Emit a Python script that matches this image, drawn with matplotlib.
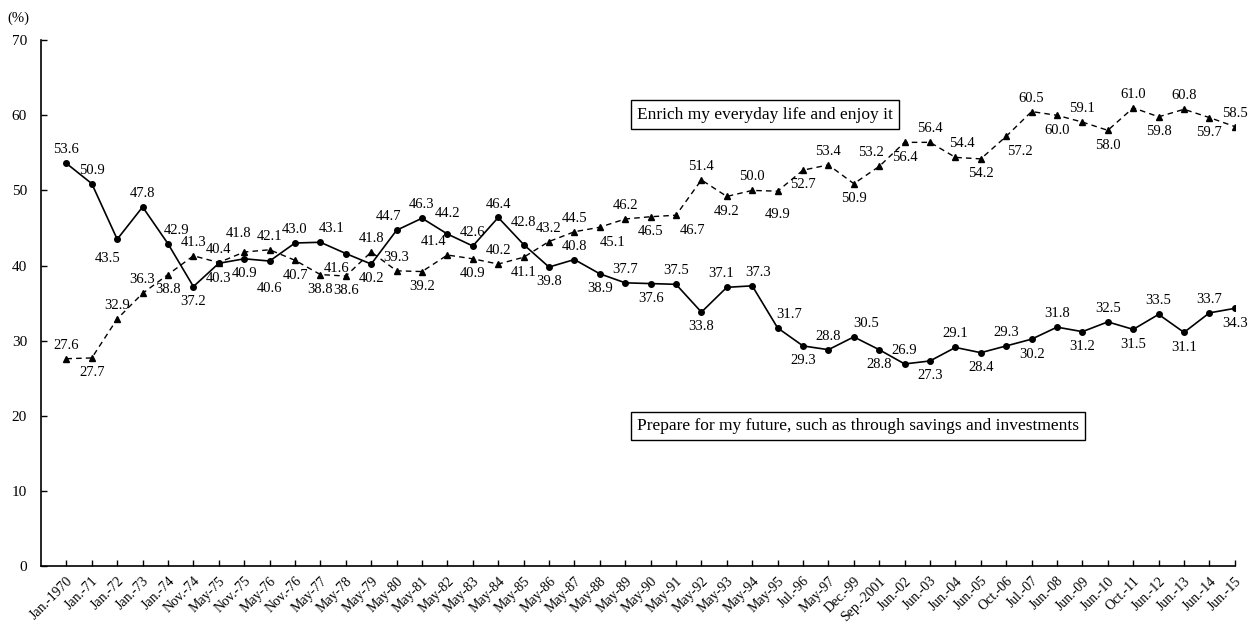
import matplotlib
matplotlib.use('Agg')
import matplotlib.pyplot as plt

plt.rcParams['font.family'] = ['Liberation Serif', 'DejaVu Serif']

# survey dates (x axis)
dates = ['Jan.-1970', 'Jan.-71', 'Jan.-72', 'Jan.-73', 'Jan.-74', 'Nov.-74', 'May-75',
         'Nov.-75', 'May-76', 'Nov.-76', 'May-77', 'May-78', 'May-79', 'May-80',
         'May-81', 'May-82', 'May-83', 'May-84', 'May-85', 'May-86', 'May-87',
         'May-88', 'May-89', 'May-90', 'May-91', 'May-92', 'May-93', 'May-94',
         'May-95', 'Jul.-96', 'May-97', 'Dec.-99', 'Sep.-2001', 'Jun.-02', 'Jun.-03',
         'Jun.-04', 'Jun.-05', 'Oct.-06', 'Jul.-07', 'Jun.-08', 'Jun.-09', 'Jun.-10',
         'Oct.-11', 'Jun.-12', 'Jun.-13', 'Jun.-14', 'Jun.-15']

# Prepare for my future (solid line)
future = [53.6, 50.9, 43.5, 47.8, 42.9, 37.2, 40.3, 40.9, 40.6, 43.0, 43.1, 41.6,
          40.2, 44.7, 46.3, 44.2, 42.6, 46.4, 42.8, 39.8, 40.8, 38.9, 37.7, 37.6,
          37.5, 33.8, 37.1, 37.3, 31.7, 29.3, 28.8, 30.5, 28.8, 26.9, 27.3, 29.1,
          28.4, 29.3, 30.2, 31.8, 31.2, 32.5, 31.5, 33.5, 31.1, 33.7, 34.3]

# Enrich my everyday life (dashed line)
enrich = [27.6, 27.7, 32.9, 36.3, 38.8, 41.3, 40.4, 41.8, 42.1, 40.7, 38.8, 38.6,
          41.8, 39.3, 39.2, 41.4, 40.9, 40.2, 41.1, 43.2, 44.5, 45.1, 46.2, 46.5,
          46.7, 51.4, 49.2, 50.0, 49.9, 52.7, 53.4, 50.9, 53.2, 56.4, 56.4, 54.4,
          54.2, 57.2, 60.5, 60.0, 59.1, 58.0, 61.0, 59.8, 60.8, 59.7, 58.5]

# label placement: a = above, b = below
future_pos = ['a', 'a', 'b', 'a', 'a', 'b', 'b', 'b', 'b', 'a', 'a', 'b', 'b', 'a',
              'a', 'a', 'a', 'a', 'a', 'b', 'a', 'b', 'a', 'b', 'a', 'b', 'a', 'a',
              'a', 'b', 'a', 'a', 'b', 'a', 'b', 'a', 'b', 'a', 'b', 'a', 'b', 'a',
              'b', 'a', 'b', 'a', 'b']
enrich_pos = ['a', 'b', 'a', 'a', 'b', 'a', 'a', 'a', 'a', 'b', 'b', 'b', 'a', 'a',
              'b', 'a', 'b', 'a', 'b', 'a', 'a', 'b', 'a', 'b', 'b', 'a', 'b', 'a',
              'b', 'b', 'a', 'b', 'a', 'b', 'a', 'a', 'b', 'b', 'a', 'b', 'a', 'b',
              'a', 'b', 'a', 'b', 'a']

# small nudges (points) for crowded labels, by point index
future_nudge = {2: (-7, -3), 4: (6, 0), 8: (0, -9), 10: (8, 0), 11: (-7, 0),
                13: (-6, 0), 15: (0, 5), 18: (0, 6), 26: (-4, 0), 27: (4, 0),
                28: (8, 0), 31: (9, 0)}
enrich_nudge = {7: (-4, 4), 15: (-10, 0), 21: (9, 0), 24: (12, 0), 28: (0, -6),
                32: (-6, 0), 35: (5, 0), 37: (10, 0)}

x = list(range(1, len(dates) + 1))

fig = plt.figure(figsize=(12.54, 6.26), dpi=100)
ax = fig.add_axes([0.0327, 0.0958, 0.952, 0.840])

ax.plot(x, future, color='black', linewidth=1.2, marker='o', markersize=4)
ax.plot(x, enrich, color='black', linewidth=1.0, linestyle=(0, (4, 3)),
        marker='^', markersize=5)


def label(xi, v, p, nudge):
    dx, dy = nudge
    if p == 'a':
        ax.annotate(f'{v:.1f}', (xi, v), xytext=(dx, 5 + dy), textcoords='offset points',
                    ha='center', va='bottom', fontsize=10.5)
    else:
        ax.annotate(f'{v:.1f}', (xi, v), xytext=(dx, -6 + dy), textcoords='offset points',
                    ha='center', va='top', fontsize=10.5)


for i, (xi, v, p) in enumerate(zip(x, future, future_pos)):
    label(xi, v, p, future_nudge.get(i, (0, 0)))
for i, (xi, v, p) in enumerate(zip(x, enrich, enrich_pos)):
    label(xi, v, p, enrich_nudge.get(i, (0, 0)))

ax.set_xlim(0, len(dates))
ax.set_ylim(0, 70)
ax.set_yticks(range(0, 71, 10))
ax.set_xticks(x)
ax.set_xticklabels(dates, rotation=45, ha='right', rotation_mode='anchor', fontsize=10)
ax.tick_params(axis='both', direction='in', length=4, width=1)
ax.tick_params(axis='y', labelsize=11, pad=10)
ax.tick_params(axis='x', pad=6)
for s in ['top', 'right']:
    ax.spines[s].set_visible(False)
for s in ['left', 'bottom']:
    ax.spines[s].set_linewidth(1.2)

box = dict(boxstyle='square,pad=0.35', facecolor='white', edgecolor='black', linewidth=1)
ax.text(23.45, 60.1, 'Enrich my everyday life and enjoy it', fontsize=12.5,
        va='center', ha='left', bbox=box)
ax.text(23.45, 18.6, 'Prepare for my future, such as through savings and investments',
        fontsize=12.5, va='center', ha='left', bbox=box)

fig.text(18 / 1254, 1 - 18 / 626, '(%)', fontsize=10.5, ha='center', va='center')

fig.savefig('out.png', dpi=100)
